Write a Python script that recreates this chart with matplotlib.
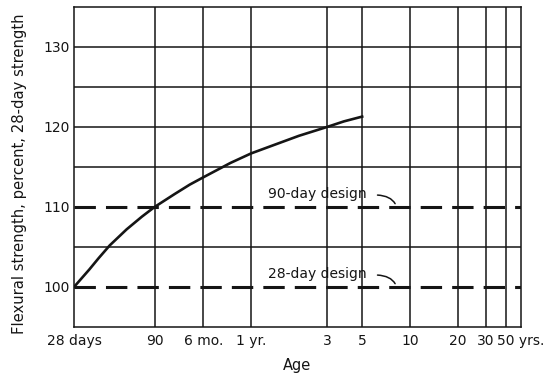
import numpy as np
import matplotlib
matplotlib.use("Agg")
import matplotlib.pyplot as plt

# age in days, strength in percent of 28-day strength
age_days = [28, 35, 40, 47, 60, 75, 90, 120, 150, 182, 270, 365, 500, 730, 1095, 1400, 1825]
strength = [100, 102.2, 103.6, 105.2, 107.2, 108.8, 110, 111.6, 112.8, 113.7, 115.5, 116.7,
            117.7, 118.9, 120.0, 120.7, 121.3]

design_levels = [110, 100]
design_labels = ["90-day design", "28-day design"]

# x axis ticks (in years)
tick_years = [28 / 365, 90 / 365, 0.5, 1, 3, 5, 10, 20, 30, 50]
tick_labels = ["28 days", "90", "6 mo.", "1 yr.", "3", "5", "10", "20", "30", "50 yrs."]
extra_grid_years = [40]
y_labels = [100, 110, 120, 130]
y_grid = [105, 115, 120, 125, 130]

ink = "#151515"
plt.rcParams['font.family'] = ['DejaVu Sans']

fig = plt.figure(figsize=(5.58, 3.73), dpi=100)
ax = fig.add_axes([74 / 558, 1 - 327 / 373, (521 - 74) / 558, (327 - 7) / 373])

ax.set_xscale('log')
ax.set_xlim(28 / 365, 50)
ax.set_ylim(95, 135)

# grid lines
for x in tick_years[1:-1] + extra_grid_years:
    ax.axvline(x, color=ink, lw=1.1, zorder=1)
for y in y_grid:
    ax.axhline(y, color=ink, lw=1.1, zorder=1)

# design levels (dashed)
for lvl in design_levels:
    ax.plot([28 / 365, 50], [lvl, lvl], color=ink, lw=2.2, dashes=(7, 3.3), zorder=2,
            dash_capstyle='butt')

# strength curve
yrs = np.array(age_days) / 365
ax.plot(yrs, strength, color=ink, lw=1.9, zorder=3, solid_joinstyle='round')

# design labels with little leader hooks
for lvl, lab in zip(design_levels, design_labels):
    ax.text(2.62, lvl + 1.6, lab, ha='center', va='center', fontsize=10, color=ink)
    ax.annotate("", xy=(8.2, lvl + 0.1), xytext=(6.0, lvl + 1.5),
                arrowprops=dict(arrowstyle='-', color=ink, lw=1.1,
                                connectionstyle="angle3,angleA=0,angleB=-70"))

for s in ax.spines.values():
    s.set_color(ink)
    s.set_linewidth(1.1)

ax.set_xticks(tick_years)
ax.set_xticklabels(tick_labels)
ax.xaxis.set_minor_locator(matplotlib.ticker.NullLocator())
ax.set_yticks(y_labels)
ax.tick_params(length=0, labelsize=10, colors=ink)
ax.tick_params(axis='x', pad=5)
ax.tick_params(axis='y', pad=3)

ax.set_xlabel("Age", fontsize=10.5, color=ink, labelpad=7)
ax.set_ylabel("Flexural strength, percent, 28-day strength", fontsize=10.6, color=ink)
ax.yaxis.set_label_coords(-0.105, 0.48)

fig.savefig("out.png", dpi=100)
